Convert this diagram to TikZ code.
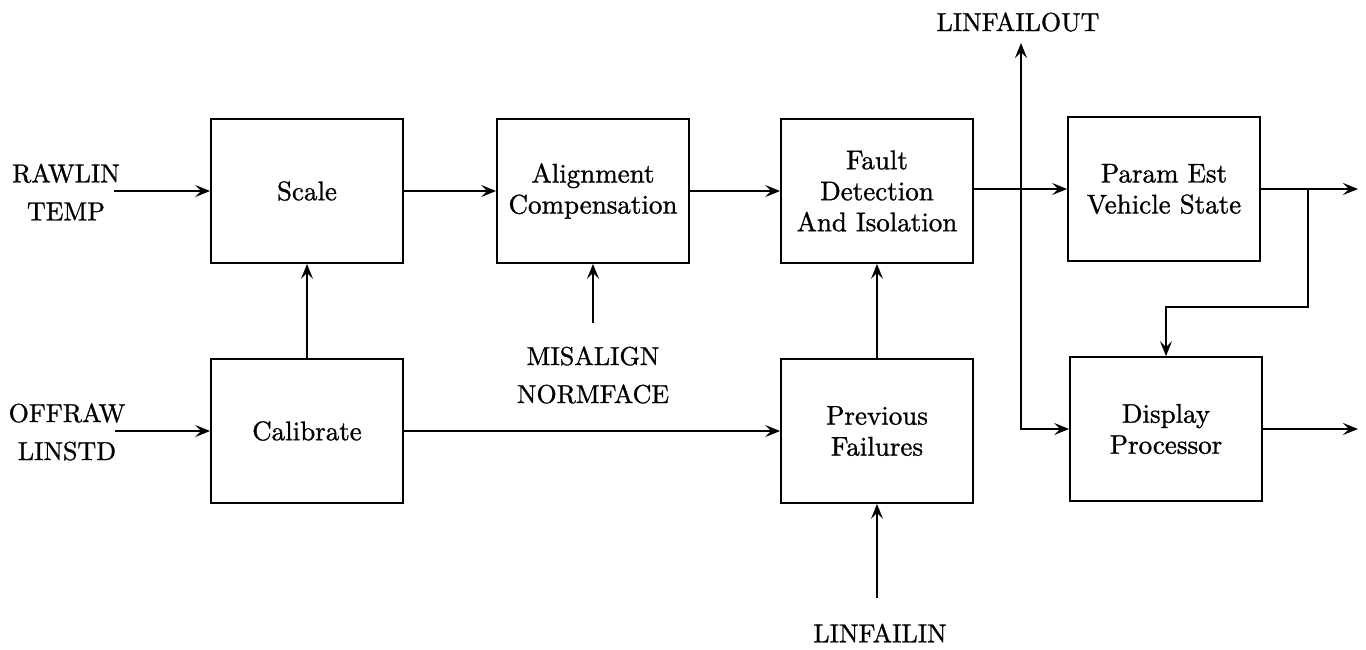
\documentclass[tikz,border=0pt]{standalone}
\usepackage{fontspec}
\setmainfont{lmroman10-regular}[Extension=.otf,FakeBold=1.0]
\usetikzlibrary{arrows.meta}
\begin{document}
\begin{tikzpicture}[x=1pt,y=-1pt,
  blk/.style={draw,line width=1.8pt,minimum width=192pt,minimum height=144pt,align=center,inner sep=0pt,font=\fontsize{27}{31}\selectfont},
  lbl/.style={align=center,inner sep=0pt,font=\fontsize{26}{38}\selectfont},
  tip/.tip={Stealth[length=15pt,width=12pt,inset=6pt]},
  arr/.style={line width=2pt,-tip},
  ln/.style={line width=2pt}]
\useasboundingbox (0,0) rectangle (1366,649);
% blocks
\node[blk] (scale) at (307,191) {Scale};
\node[blk] (align) at (593,191) {Alignment\\Compensation};
\node[blk] (fault) at (877,191) {Fault\\Detection\\And Isolation};
\node[blk] (param) at (1164,189) {Param Est\\Vehicle State};
\node[blk] (calib) at (307,431) {Calibrate};
\node[blk] (prev) at (877,431) {Previous\\Failures};
\node[blk] (disp) at (1166,429) {Display\\Processor};
% labels
\node[lbl] (rawlin) at (66,192) {RAWLIN\\TEMP};
\node[lbl] (offraw) at (67,432) {OFFRAW\\LINSTD};
\node[lbl] (misal) at (593,375) {MISALIGN\\NORMFACE};
\node[lbl] (lfin) at (880,633) {LINFAILIN};
\node[lbl] (lfout) at (1018,22) {LINFAILOUT};
% coordinates
\coordinate (rawin) at (114,191);
\coordinate (offin) at (115,431);
\coordinate (misin) at (593,323);
\coordinate (lfinst) at (877,598);
\coordinate (lfotop) at (1021,43);
\coordinate (pout) at (1358,189);
\coordinate (dout) at (1358,429);
\coordinate (br) at (1308,189);
\coordinate (brlow) at (1308,307);
% connectors
\draw[arr] (rawin) -- (scale.west);
\draw[arr] (offin) -- (calib.west);
\draw[arr] (calib.north) -- (scale.south);
\draw[arr] (scale.east) -- (align.west);
\draw[arr] (misin) -- (align.south);
\draw[arr] (align.east) -- (fault.west);
\draw[arr] (calib.east) -- (prev.west);
\draw[arr] (prev.north) -- (fault.south);
\draw[arr] (lfinst) -- (prev.south);
\draw[arr] (fault.east |- param.west) -- (param.west);
\draw[arr] (param.east) -- (pout);
\draw[arr] (disp.east) -- (dout);
\draw[ln,tip-tip] (lfotop) |- (disp.west);
\draw[arr] (br) -- (brlow) -| (disp.north);
\end{tikzpicture}
\end{document}
